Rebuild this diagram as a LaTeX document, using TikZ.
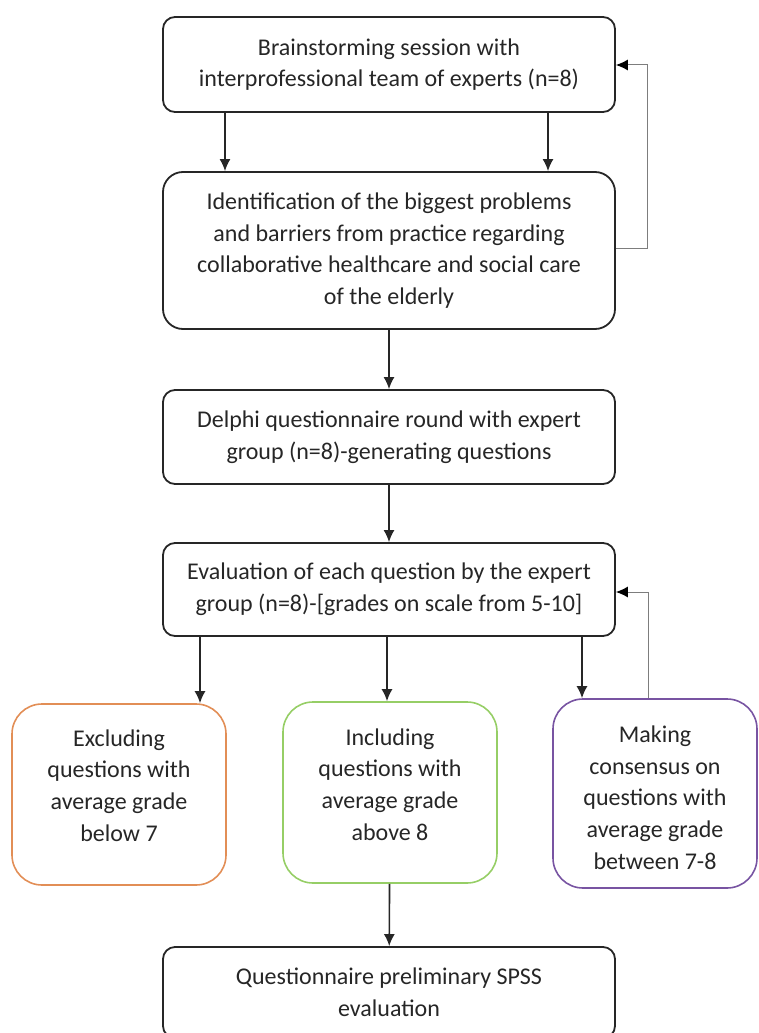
\documentclass[tikz,border=0pt]{standalone}
\usepackage{fontspec}
\setmainfont{Carlito}
\usetikzlibrary{arrows.meta}
\definecolor{boxcol}{RGB}{38,38,38}
\definecolor{exclcol}{RGB}{226,142,86}
\definecolor{inclcol}{RGB}{150,206,102}
\definecolor{conscol}{RGB}{120,84,162}
\definecolor{loopcol}{RGB}{125,125,125}
\begin{document}
\begin{tikzpicture}[x=1pt,y=-1pt]
    % page frame (px of the original)
    \useasboundingbox (0,0) rectangle (758,1033);
    \clip (0,0) rectangle (758,1033);
    % width of the main column
    \def\colw{452}
    % node style definition
    \tikzstyle{block} = [
    	draw=boxcol, line width=1.8pt, rounded corners=12pt,
    	minimum width=\colw, inner sep=0pt, align=center, text=boxcol,
    	font=\fontsize{24}{31.7}\selectfont ];
    \tikzstyle{pick} = [line width=1.6pt, rounded corners=30pt, inner sep=0pt];
    \tikzstyle{txt} = [align=center, text=boxcol, font=\fontsize{24}{31.7}\selectfont];
    \tikzstyle{arr} = [draw=boxcol, line width=1.6pt, -{Latex[length=12pt,width=11pt]}];
    \tikzstyle{back} = [draw=loopcol, line width=1pt, -{Latex[length=12pt,width=11pt,color=black]}];
    % main column
    \node[block, minimum height=95] (brain) at (389,64.5)
    	{Brainstorming session with\\interprofessional team of experts (n=8)};
    \node[block, minimum height=157, rounded corners=20pt] (ident) at (389,250.5)
    	{Identification of the biggest problems\\and barriers from practice regarding\\collaborative healthcare and social care\\of the elderly};
    \node[block, minimum height=94] (delphi) at (389,437)
    	{Delphi questionnaire round with expert\\group (n=8)-generating questions};
    \node[block, minimum height=93] (eval) at (389,589.5)
    	{Evaluation of each question by the expert\\group (n=8)-[grades on scale from 5-10]};
    % three outcomes
    \node[pick, draw=exclcol, minimum width=214, minimum height=181] (excl) at (119,794.5) {};
    \node[txt] (excl-t) at (119,785.5) {Excluding\\questions with\\average grade\\below 7};
    \node[pick, draw=inclcol, minimum width=214, minimum height=181] (incl) at (390,792.5) {};
    \node[txt] (incl-t) at (390,784.5) {Including\\questions with\\average grade\\above 8};
    \node[pick, draw=conscol, minimum width=204, minimum height=189] (cons) at (655,793.5) {};
    \node[txt] (cons-t) at (655,797.5) {Making\\consensus on\\questions with\\average grade\\between 7-8};
    \node[block, minimum height=91] (spss) at (389,992.5)
    	{Questionnaire preliminary SPSS\\evaluation};
    % arrows
    \draw[arr] (brain.south -| 225,0) -- (ident.north -| 225,0);
    \draw[arr] (brain.south -| 548,0) -- (ident.north -| 548,0);
    \draw[arr] (ident) -- (delphi);
    \draw[arr] (delphi) -- (eval);
    \draw[arr] (eval.south -| 200,0) -- (excl.north -| 200,0);
    \draw[arr] (eval.south -| 387,0) -- (incl.north -| 387,0);
    \draw[arr] (eval.south -| 582,0) -- (cons.north -| 582,0);
    \draw[arr] (incl) -- (spss);
    % feedback loops
    \draw[back] (ident.east |- 0,248) -- (647,248) -- (647,65) -- (brain.east |- 0,65);
    \draw[back] (cons.north -| 648,0) |- (eval.east |- 0,592);
\end{tikzpicture}
\end{document}
